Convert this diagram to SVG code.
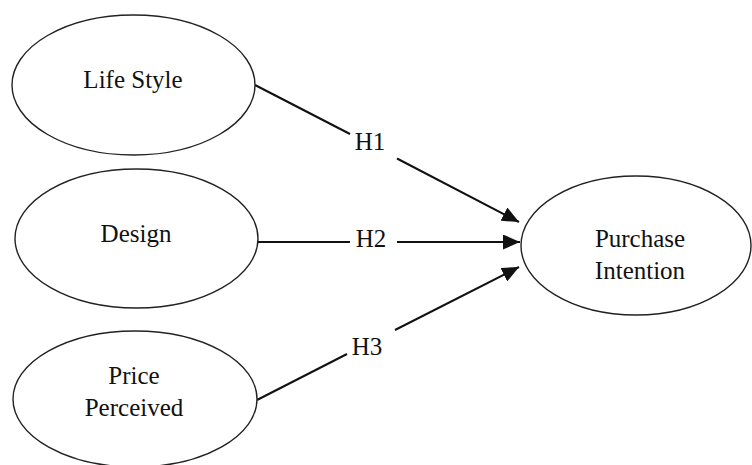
<svg xmlns="http://www.w3.org/2000/svg" width="752" height="465" viewBox="0 0 752 465">
<style>
.node ellipse{fill:#fff;stroke:#222;stroke-width:1.4}
.lbl{font-family:'Liberation Serif','Times New Roman','DejaVu Serif',serif;font-size:25px;fill:#111;text-anchor:middle}
.edge{stroke:#111;stroke-width:2;fill:none}
</style>
<defs>
<marker id="arr" markerUnits="userSpaceOnUse" markerWidth="17" markerHeight="15" refX="17" refY="7.5" orient="auto">
<path d="M0,0 L17,7.5 L0,15 z" fill="#111"/>
</marker>
</defs>
<rect width="752" height="465" fill="#fff"/>
<g id="connectors">
<line class="edge" x1="255" y1="85" x2="350" y2="134"/>
<line class="edge" x1="397" y1="158.5" x2="519" y2="222" marker-end="url(#arr)"/>
<line class="edge" x1="258" y1="242" x2="350" y2="242"/>
<line class="edge" x1="397" y1="242" x2="520" y2="242" marker-end="url(#arr)"/>
<line class="edge" x1="257" y1="400" x2="347" y2="354"/>
<line class="edge" x1="395" y1="330" x2="519" y2="267" marker-end="url(#arr)"/>
<text class="lbl" x="370" y="150" font-family="Liberation Serif, serif">H1</text>
<text class="lbl" x="371" y="247" font-family="Liberation Serif, serif">H2</text>
<text class="lbl" x="367" y="355" font-family="Liberation Serif, serif">H3</text>
</g>
<g id="life-style" class="node">
<ellipse cx="133.5" cy="85" rx="121.5" ry="70"/>
<text class="lbl" x="133" y="88">Life Style</text>
</g>
<g id="design" class="node">
<ellipse cx="136.5" cy="238.5" rx="121.5" ry="69.5"/>
<text class="lbl" x="136" y="242">Design</text>
</g>
<g id="price-perceived" class="node">
<ellipse cx="135" cy="399" rx="122" ry="68"/>
<text class="lbl" x="134" y="384">Price</text>
<text class="lbl" x="134" y="416">Perceived</text>
</g>
<g id="purchase-intention" class="node">
<ellipse cx="636" cy="245.5" rx="115" ry="69.5"/>
<text class="lbl" x="640" y="247">Purchase</text>
<text class="lbl" x="640" y="279">Intention</text>
</g>
</svg>
